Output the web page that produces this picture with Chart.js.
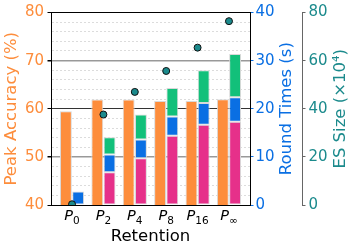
<!DOCTYPE html>
<html>
<head>
<meta charset="utf-8">
<script src="https://cdn.jsdelivr.net/npm/chart.js@4"></script>
<style>
  html, body { margin: 0; padding: 0; background: #fff; }
  canvas { display: block; }
</style>
</head>
<body>
<canvas id="retentionChart" width="357" height="250"></canvas>
<script>
// Retention levels (subscript of P)
const retentionLabels = ['0', '2', '4', '8', '16', '\u221E'];

// Peak accuracy (%), left axis
const peakAccuracy = [59.5, 61.9, 61.9, 61.6, 61.6, 62.0];

// Round time breakdown (s), stacked on the right axis
const roundPink = [null, 6.8, 9.7, 14.4, 16.7, 17.3];
const roundBlue = [2.8, 3.7, 3.9, 4.0, 4.5, 5.1];
const roundGreen = [null, 3.6, 5.2, 5.9, 6.8, 9.0];

// ES size (x10^4), outer right axis
const esSize = [0.3, 37.6, 47.0, 55.7, 65.4, 76.4];

const ORANGE = '#FD8D3C';
const BLUE = '#0A6FE3';
const PINK = '#E6308A';
const GREEN = '#12C07A';
const TEAL = '#1B8A8C';
const FONT = 'DejaVu Sans';

function pts(values) {
  return values.map((v, i) => ({ x: i, y: v }));
}

function vText(ctx, text, x, y, color) {
  ctx.save();
  ctx.translate(x, y);
  ctx.rotate(-Math.PI / 2);
  ctx.fillStyle = color;
  ctx.textAlign = 'center';
  ctx.textBaseline = 'middle';
  ctx.fillText(text, 0, 0);
  ctx.restore();
}

// axis titles (all read bottom to top) and P with subscripts
const axisText = {
  id: 'axisText',
  afterDraw(chart) {
    const ctx = chart.ctx;
    const xs = chart.scales.x;
    const area = chart.chartArea;
    const midY = (area.top + area.bottom) / 2;
    ctx.save();
    ctx.font = '16.5px "' + FONT + '"';
    vText(ctx, 'Peak Accuracy (%)', 12, midY, ORANGE);
    vText(ctx, 'Round Times (s)', 287, midY, BLUE);
    vText(ctx, 'ES Size (\u00D710\u2074)', 341, midY, TEAL);
    ctx.fillStyle = '#000';
    ctx.textAlign = 'center';
    ctx.textBaseline = 'alphabetic';
    ctx.fillText('Retention', (area.left + area.right) / 2, 241);

    ctx.textAlign = 'left';
    retentionLabels.forEach((sub, i) => {
      const cx = xs.getPixelForValue(i);
      ctx.font = 'italic 14.5px "' + FONT + '"';
      const pw = ctx.measureText('P').width;
      ctx.font = '10.5px "' + FONT + '"';
      const sw = ctx.measureText(sub).width;
      const start = cx - (pw + sw) / 2;
      ctx.font = 'italic 14.5px "' + FONT + '"';
      ctx.fillText('P', start, xs.top + 15);
      ctx.font = '10.5px "' + FONT + '"';
      ctx.fillText(sub, start + pw, xs.top + 18.5);
    });
    ctx.restore();
  }
};

const barCommon = {
  type: 'bar',
  borderColor: '#d9d9d9',
  borderWidth: 1,
  borderSkipped: false,
  categoryPercentage: 0.78,
  barPercentage: 0.97,
  order: 2
};

new Chart(document.getElementById('retentionChart'), {
  data: {
    datasets: [
      Object.assign({}, barCommon, { label: 'Peak Accuracy', data: pts(peakAccuracy), backgroundColor: ORANGE, yAxisID: 'y', stack: 'acc' }),
      Object.assign({}, barCommon, { label: 'Round Time A', data: pts(roundPink), backgroundColor: PINK, yAxisID: 'y1', stack: 'rt' }),
      Object.assign({}, barCommon, { label: 'Round Time B', data: pts(roundBlue), backgroundColor: BLUE, yAxisID: 'y1', stack: 'rt' }),
      Object.assign({}, barCommon, { label: 'Round Time C', data: pts(roundGreen), backgroundColor: GREEN, yAxisID: 'y1', stack: 'rt' }),
      {
        type: 'scatter',
        label: 'ES Size',
        data: pts(esSize),
        yAxisID: 'y2',
        backgroundColor: TEAL,
        borderColor: '#111',
        borderWidth: 1,
        pointRadius: 3.5,
        order: 0
      }
    ]
  },
  options: {
    responsive: false,
    animation: false,
    devicePixelRatio: 1,
    layout: { padding: { left: 0, right: 0, top: 12, bottom: 0 } },
    plugins: { legend: { display: false }, tooltip: { enabled: false } },
    scales: {
      x: {
        type: 'linear',
        offset: false,
        min: -0.67,
        max: 5.67,
        afterBuildTicks: scale => { scale.ticks = retentionLabels.map((l, i) => ({ value: i })); },
        afterFit: scale => { scale.height = 45; },
        ticks: { display: false },
        grid: { drawOnChartArea: false, drawTicks: false, offset: false },
        border: { color: '#000', width: 1 }
      },
      y: {
        position: 'left',
        min: 40,
        max: 80,
        afterFit: scale => { scale.width = 51; },
        ticks: {
          stepSize: 2,
          autoSkip: false,
          color: ORANGE,
          font: { family: FONT, size: 15 },
          padding: 3.5,
          callback: v => (v % 10 === 0 ? v : '')
        },
        grid: {
          color: c => {
            const v = c.tick ? c.tick.value : 0;
            if (v === 80 || v === 40) return '#000';
            if (v === 60) return '#333';
            if (v % 10 === 0) return '#999';
            return '#dcdcdc';
          },
          lineWidth: c => (c.tick && (c.tick.value === 50 || c.tick.value === 70) ? 1.5 : 1),
          tickColor: c => (c.tick && c.tick.value % 10 === 0 ? '#000' : 'transparent'),
          tickLength: 3.5
        },
        border: {
          color: '#000',
          dash: c => (c.tick && c.tick.value % 10 !== 0 ? [2, 2] : [])
        }
      },
      y1: {
        position: 'right',
        min: 0,
        max: 40,
        stacked: true,
        afterFit: scale => { scale.width = 52; },
        ticks: { stepSize: 10, autoSkip: false, color: BLUE, font: { family: FONT, size: 15 }, padding: 2 },
        grid: { drawOnChartArea: false, tickColor: BLUE, tickLength: 3.5 },
        border: { color: '#000', width: 1 }
      },
      y2: {
        position: 'right',
        min: 0,
        max: 80,
        afterFit: scale => { scale.width = 55; },
        ticks: { stepSize: 20, autoSkip: false, color: TEAL, font: { family: FONT, size: 15 }, padding: 3 },
        grid: { drawOnChartArea: false, tickColor: '#666', tickLength: 3.5 },
        border: { color: '#666', width: 1 }
      }
    }
  },
  plugins: [axisText]
});
</script>
</body>
</html>
